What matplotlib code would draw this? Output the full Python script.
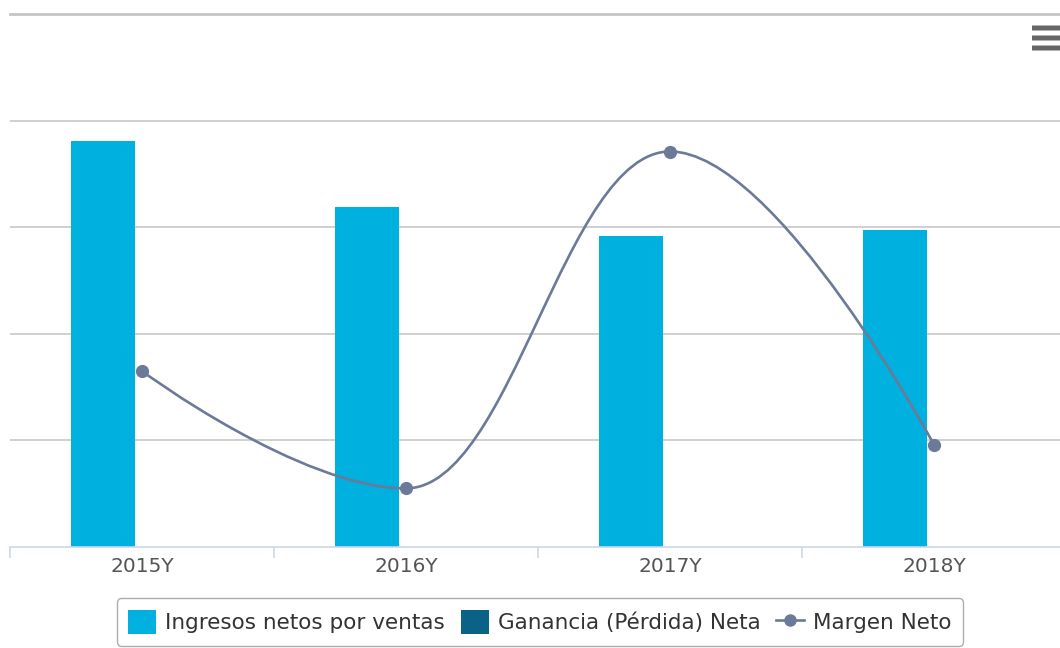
import matplotlib.pyplot as plt
import numpy as np
from matplotlib.path import Path
from matplotlib.patches import PathPatch, Patch, FancyBboxPatch
from matplotlib.lines import Line2D

categories = ["2015Y", "2016Y", "2017Y", "2018Y"]
ingresos = [3.81, 3.19, 2.92, 2.97]
ganancia = [0.0, 0.0, 0.0, 0.0]
margen = [1.65, 0.55, 3.71, 0.96]

c_ing = "#00b0de"
c_gan = "#0b6287"
c_mar = "#6b7a99"

def spline_path(xs, ys, smoothing=1.5):
    # highcharts-like spline control points
    n = len(xs)
    left, right = [None] * n, [None] * n
    for i in range(n):
        if i == 0 or i == n - 1:
            left[i] = right[i] = (xs[i], ys[i])
            continue
        d = smoothing + 1
        lx = (smoothing * xs[i] + xs[i - 1]) / d
        ly = (smoothing * ys[i] + ys[i - 1]) / d
        rx = (smoothing * xs[i] + xs[i + 1]) / d
        ry = (smoothing * ys[i] + ys[i + 1]) / d
        corr = (ry - ly) * (rx - xs[i]) / (rx - lx) + ys[i] - ry
        ly += corr
        ry += corr
        hi, lo = max(ys[i - 1], ys[i]), min(ys[i - 1], ys[i])
        if ly > hi:
            ly = hi; ry = 2 * ys[i] - ly
        elif ly < lo:
            ly = lo; ry = 2 * ys[i] - ly
        hi, lo = max(ys[i + 1], ys[i]), min(ys[i + 1], ys[i])
        if ry > hi:
            ry = hi; ly = 2 * ys[i] - ry
        elif ry < lo:
            ry = lo; ly = 2 * ys[i] - ry
        left[i], right[i] = (lx, ly), (rx, ry)
    verts = [(xs[0], ys[0])]
    codes = [Path.MOVETO]
    for i in range(1, n):
        verts += [right[i - 1], left[i], (xs[i], ys[i])]
        codes += [Path.CURVE4] * 3
    return Path(verts, codes)

fig = plt.figure(figsize=(10.6, 6.48), dpi=100)
ax = fig.add_axes([10 / 1060, 101 / 648, 1056 / 1060, 533 / 648])

x = np.arange(len(categories))
ax.bar(x - 0.148, ingresos, width=0.24, color=c_ing, zorder=2)
ax.bar(x + 0.148, ganancia, width=0.24, color=c_gan, zorder=2)

ax.add_patch(PathPatch(spline_path(list(x), margen), fill=False, edgecolor=c_mar,
                       lw=1.9, zorder=3, clip_on=False))
ax.plot(x, margen, "o", color=c_mar, markersize=8.5, zorder=4, clip_on=False)

ax.set_xlim(-0.5, 3.5)
ax.set_ylim(0, 5)
ax.set_yticks([1, 2, 3, 4, 5])
ax.yaxis.grid(True, color="#c8c8c8", lw=1.2)
ax.set_axisbelow(True)
ax.tick_params(axis="y", left=False, labelleft=False)
for s in ["top", "right", "left"]:
    ax.spines[s].set_visible(False)
ax.spines["bottom"].set_color("#ccd6eb")
ax.spines["bottom"].set_linewidth(1.2)
# top line a bit heavier, like the reference
ax.axhline(5, color="#c4c4c4", lw=2.0, zorder=1, clip_on=False)

ax.set_xticks(x)
ax.set_xticklabels(categories, fontsize=14.5, color="#555555")
ax.tick_params(axis="x", length=0, pad=7)
ax.set_xticks(np.arange(-0.5, 4, 1), minor=True)
ax.tick_params(axis="x", which="minor", length=8, color="#ccd6eb", width=1.2)

handles = [
    Patch(facecolor=c_ing, edgecolor="none"),
    Patch(facecolor=c_gan, edgecolor="none"),
    Line2D([0], [0], color=c_mar, lw=1.9, marker="o", markersize=8),
]
leg = fig.legend(handles, ["Ingresos netos por ventas", "Ganancia (Pérdida) Neta", "Margen Neto"],
                 loc="center", bbox_to_anchor=(540 / 1060, 1 - 622 / 648), ncol=3,
                 fontsize=15.5, frameon=True, fancybox=True, handlelength=1.3,
                 handleheight=1.3, handletextpad=0.4, columnspacing=0.75,
                 borderpad=0.55, borderaxespad=0, labelcolor="#333333")
leg.get_frame().set_edgecolor("#999999")
leg.get_frame().set_linewidth(1.0)

# menu icon
for yy in [28, 38, 48]:
    fig.patches.append(FancyBboxPatch((1032 / 1060, 1 - (yy + 2.5) / 648), 28 / 1060, 5 / 648,
                                      boxstyle="round,pad=0", transform=fig.transFigure,
                                      facecolor="#666666", edgecolor="none"))

fig.savefig("out.png", dpi=100)
